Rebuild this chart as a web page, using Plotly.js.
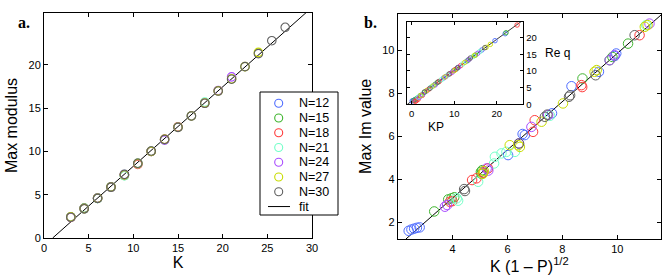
<!DOCTYPE html>
<html>
<head>
<meta charset="utf-8">
<script src="https://cdn.plot.ly/plotly-3.0.1.min.js"></script>
<style>html,body{margin:0;padding:0;background:#fff;}#chart{width:667px;height:277px;}</style>
</head>
<body>
<div id="chart"></div>
<script>
// ---------- data ----------
var seriesNames = ["N=12","N=15","N=18","N=21","N=24","N=27","N=30"];
var seriesColors = ["#4f6dff","#3fb52f","#ff3b3b","#73ffc8","#a94cff","#c8dc00","#5f5f5f"];

// panel a: K values and Max modulus
var kA = [3,4.5,6,7.5,9,10.5,12,13.5,15,16.5,18,19.5,21,22.5,24,25.5,27];
var aY12 = [2.42,3.42,4.62,5.88,7.32];
var aY15 = [2.40,3.45,4.58,5.90,7.22,8.62,10.02];
var aY18 = [2.38,3.40,4.60,5.86,7.30,8.50,10.00,11.40,12.85];
var aY21 = [2.40,3.38,4.58,5.86,7.20,8.60,10.00,11.35,12.80,14.10,15.70];
var aY24 = [2.40,3.40,4.60,5.88,7.30,8.60,10.00,11.30,12.80,14.10,15.60,17.05,18.62];
var aY27 = [2.45,3.40,4.60,5.90,7.30,8.60,10.00,11.40,12.80,14.10,15.60,17.00,18.40,19.80,21.45];
var aY30 = [2.40,3.38,4.58,5.88,7.35,8.63,10.05,11.40,12.78,14.10,15.57,16.98,18.35,19.80,21.30,22.80,24.35];
var fitAx = [0.97, 30];
var fitAy = [0, 26.65];

// panel b: K(1-P)^1/2 vs Max Im value
var bX12 = [2.40,2.50,2.60,2.70,2.80,6.02,6.55,6.63,7.62,8.33,9.33,9.90,9.96];
var bY12 = [1.60,1.66,1.70,1.74,1.76,5.12,6.10,6.05,7.06,8.32,8.99,9.72,9.84];
var bX15 = [3.33,3.84,3.96,4.06,5.03,5.08,5.05,8.73,9.72,9.82,10.39];
var bY15 = [2.50,3.06,3.11,3.16,4.34,4.42,4.25,8.68,9.53,9.68,10.30];
var bX18 = [3.90,3.99,4.71,4.87,5.11,5.29,6.93,6.99,8.69,8.72,10.81];
var bY18 = [2.95,2.98,3.96,4.04,4.30,4.50,6.20,6.74,8.37,8.28,10.69];
var bX21 = [4.15,4.20,4.93,5.51,5.54,5.78,5.96,6.27,7.55,11.05];
var bY21 = [3.11,3.00,3.88,4.73,5.04,5.20,5.27,5.27,6.95,11.16];
var bX24 = [3.72,3.80,5.24,5.30,6.41,6.87,7.48,9.72,9.90,11.17];
var bY24 = [2.72,2.80,4.50,4.40,5.66,6.43,6.98,9.53,9.76,11.23];
var bX27 = [5.10,5.14,6.08,6.39,6.45,7.24,8.02,9.17,9.25,11.00,11.10];
var bY27 = [4.25,4.38,5.58,5.58,5.50,6.67,7.52,8.99,9.07,11.08,11.16];
var bX30 = [4.42,4.45,6.42,7.36,7.45,8.24,8.28,9.21,10.63];
var bY30 = [3.54,3.45,5.66,6.90,7.00,7.83,7.90,8.83,10.69];
var fitBx = [2.30, 11.60];
var fitBy = [1.22, 11.64];

// inset: KP vs Re q
var iX12 = [0.1,0.3,0.5,0.7,0.9,7.5,9.8,13.0,16.5,19.6,22.0];
var iY12 = [1.0,1.1,1.2,1.3,1.4,7.9,10.1,13.0,16.3,19.1,21.2];
var iX15 = [0.5,1.2,2.0,3.0,5.5,6.0,10.5,13.3,15.0,22.2];
var iY15 = [1.2,1.8,2.6,3.6,6.0,6.5,10.6,13.3,14.8,21.5];
var iX18 = [0.8,1.1,1.5,2.5,4.0,6.5,9.0,10.2,11.5,24.8];
var iY18 = [0.9,1.1,1.5,2.7,4.5,6.9,9.2,10.4,11.6,23.8];
var iX21 = [1.5,2.8,4.5,5.0,7.0,8.5,12.0,14.5,16.0];
var iY21 = [2.1,3.3,5.1,5.5,7.4,8.8,12.1,14.4,15.8];
var iX24 = [1.8,2.5,3.5,5.5,8.0,9.5,11.0,13.5,15.5];
var iY24 = [2.1,2.9,4.0,5.8,8.3,9.6,11.1,13.5,15.3];
var iX27 = [2.2,3.5,5.0,7.8,10.0,12.5,14.8,17.5,18.5];
var iY27 = [2.7,4.1,5.5,8.2,10.1,12.6,14.7,17.1,18.0];
var iX30 = [3.0,4.3,6.2,8.8,10.8,13.8,17.2];
var iY30 = [3.7,4.8,6.7,9.1,11.0,13.9,17.0];
var fitIx = [-1.04, 26.26];
var fitIy = [0, 25.3];

// legend labels
var legendLabels = seriesNames.concat(["fit"]);

// ---------- traces ----------
var aYs = [aY12,aY15,aY18,aY21,aY24,aY27,aY30];
var bXs = [bX12,bX15,bX18,bX21,bX24,bX27,bX30];
var bYs = [bY12,bY15,bY18,bY21,bY24,bY27,bY30];
var iXs = [iX12,iX15,iX18,iX21,iX24,iX27,iX30];
var iYs = [iY12,iY15,iY18,iY21,iY24,iY27,iY30];

var traces = [];
traces.push({x: fitAx, y: fitAy, xaxis:'x', yaxis:'y', mode:'lines', line:{color:'#000', width:1}, name:'fit'});
traces.push({x: fitBx, y: fitBy, xaxis:'x2', yaxis:'y2', mode:'lines', line:{color:'#000', width:1}, name:'fit'});
traces.push({x: fitIx, y: fitIy, xaxis:'x3', yaxis:'y3', mode:'lines', line:{color:'#000', width:0.8}, name:'fit'});

for (var i = 0; i < seriesNames.length; i++) {
  traces.push({
    x: kA.slice(0, aYs[i].length), y: aYs[i], xaxis:'x', yaxis:'y', mode:'markers', name: seriesNames[i],
    marker:{symbol:'circle-open', size:8.5, color:seriesColors[i], line:{width:1.1, color:seriesColors[i]}}
  });
  traces.push({
    x: bXs[i], y: bYs[i], xaxis:'x2', yaxis:'y2', mode:'markers', name: seriesNames[i],
    marker:{symbol:'circle-open', size:9.5, color:seriesColors[i], line:{width:1, color:seriesColors[i]}}
  });
  traces.push({
    x: iXs[i], y: iYs[i], xaxis:'x3', yaxis:'y3', mode:'markers', name: seriesNames[i],
    marker:{symbol:'circle-open', size:4.5, color:seriesColors[i], line:{width:0.9, color:seriesColors[i]}}
  });
}

var fontFam = 'Liberation Sans, Arial, Helvetica, sans-serif';
function ax(extra) {
  var base = {showline:true, linecolor:'#000', linewidth:1, mirror:'ticks', ticks:'inside', ticklen:4,
    tickcolor:'#000', showgrid:false, zeroline:false, tickfont:{family:fontFam, size:11, color:'#000'}, fixedrange:true};
  for (var k in extra) base[k] = extra[k];
  return base;
}
function PX(p) { return p / 667; }
function PY(p) { return 1 - p / 277; }
function note(text, px, py, fnt, xa) {
  return {text:text, x:PX(px), y:PY(py), xref:'paper', yref:'paper', xanchor:xa || 'center', yanchor:'middle',
    showarrow:false, font:fnt};
}

var serifBold = {family:'Liberation Serif, Times New Roman, serif', size:16, color:'#000'};
var shapes = [];
var annotations = [
  note('<b>a.</b>', 24, 22, serifBold),
  note('<b>b.</b>', 370, 22, serifBold),
  note('Re q', 557, 53, {family:fontFam, size:12, color:'#000'}),
  note('KP', 435.5, 127, {family:fontFam, size:12, color:'#000'})
];

// manual legend box for panel a
shapes.push({type:'rect', xref:'paper', yref:'paper', x0:PX(260), x1:PX(338), y0:PY(215), y1:PY(92),
  line:{color:'#000', width:1}, fillcolor:'#fff', layer:'above'});
var legTop = 103.3, legStep = 14.75;
for (var j = 0; j < legendLabels.length; j++) {
  var cy = legTop + j * legStep;
  if (j < seriesColors.length) {
    shapes.push({type:'circle', xref:'paper', yref:'paper', x0:PX(278.7-4), x1:PX(278.7+4), y0:PY(cy+4), y1:PY(cy-4),
      line:{color:seriesColors[j], width:1.1}, layer:'above'});
  } else {
    shapes.push({type:'line', xref:'paper', yref:'paper', x0:PX(268), x1:PX(290), y0:PY(cy), y1:PY(cy),
      line:{color:'#000', width:1}, layer:'above'});
  }
  annotations.push(note(legendLabels[j], 297, cy, {family:fontFam, size:12.5, color:'#000'}, 'left'));
}

var pad = '\u00a0\u00a0\u00a0\u00a0\u00a0\u00a0\u00a0\u00a0';
var layout = {
  width: 667, height: 277,
  margin: {l:0, r:0, t:0, b:0},
  paper_bgcolor:'#fff', plot_bgcolor:'#fff',
  hovermode:false, showlegend:false,
  font:{family:fontFam, color:'#000'},
  xaxis: ax({domain:[PX(44), PX(312)], range:[0,30], tickvals:[0,5,10,15,20,25,30], anchor:'y',
    title:{text:'K', font:{size:16}, standoff:2}}),
  yaxis: ax({domain:[PY(238), PY(13)], range:[0,26], tickvals:[0,5,10,15,20], anchor:'x',
    title:{text:'Max modulus', font:{size:16}, standoff:6}}),
  xaxis2: ax({domain:[PX(397.7), PX(661)], range:[2.0,11.59], tickvals:[4,6,8,10], anchor:'y2',
    title:{text:'K (1 \u2013 P)<sup>1/2</sup>' + pad, font:{size:16}, standoff:2}}),
  yaxis2: ax({domain:[PY(239), PY(13.7)], range:[1.22,11.69], tickvals:[2,4,6,8,10], anchor:'x2',
    title:{text:'Max Im value', font:{size:16}, standoff:6}}),
  xaxis3: ax({domain:[PX(407.3), PX(523.3)], range:[-1.04,26.26], tickvals:[0,10,20], anchor:'y3', ticklen:3,
    tickfont:{family:fontFam, size:9.5, color:'#000'}}),
  yaxis3: ax({domain:[PY(104.3), PY(21.7)], range:[0,24.8], tickvals:[0,5,10,15,20], anchor:'x3', side:'right', ticklen:3,
    tickfont:{family:fontFam, size:9.5, color:'#000'}}),
  shapes: shapes,
  annotations: annotations
};

Plotly.newPlot('chart', traces, layout, {staticPlot:true, displayModeBar:false});
</script>
</body>
</html>
